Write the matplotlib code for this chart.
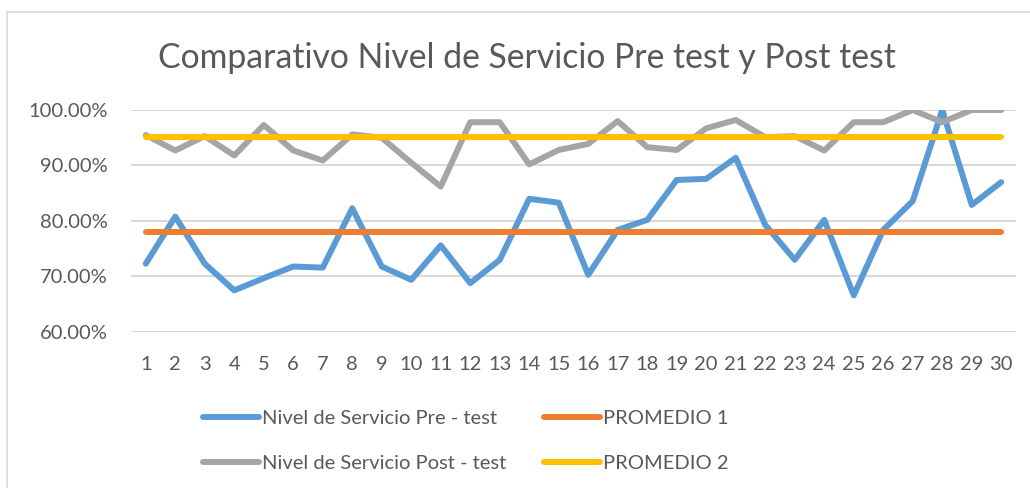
import numpy as np
import matplotlib
matplotlib.use("Agg")
import matplotlib.pyplot as plt
from matplotlib.ticker import FuncFormatter
from matplotlib.patches import Rectangle

# Nivel de servicio por medicion (en %)
dias = list(range(1, 31))
pre_test = [72.3, 80.8, 72.3, 67.5, 69.7, 71.8, 71.6, 82.3, 71.8, 69.4,
            75.6, 68.8, 73.0, 84.0, 83.3, 70.3, 78.4, 80.2, 87.4, 87.6,
            91.4, 79.3, 73.0, 80.2, 66.6, 78.4, 83.6, 100.0, 82.9, 87.0]
post_test = [95.5, 92.7, 95.3, 91.8, 97.3, 92.7, 90.9, 95.6, 95.0, 90.5,
             86.2, 97.8, 97.8, 90.2, 92.8, 93.9, 98.0, 93.3, 92.8, 96.7,
             98.2, 95.1, 95.3, 92.7, 97.8, 97.8, 100.0, 97.8, 100.0, 100.0]
promedio_1 = [np.mean(pre_test)] * len(dias)
promedio_2 = [np.mean(post_test)] * len(dias)

txt = "#595959"
plt.rcParams['font.family'] = ['Lato', 'DejaVu Sans']

fig = plt.figure(figsize=(10.30, 4.88), dpi=100)
ax = fig.add_axes([131 / 1030, 1 - 332 / 488, 885 / 1030, 222 / 488])

# marco del grafico
fig.patches.append(Rectangle((7 / 1030, -0.1), 1.2, 1 - 12 / 488 + 0.1,
                             transform=fig.transFigure, fill=False,
                             edgecolor="#d9d9d9", lw=1.2))

lw = 4.3
ax.plot(dias, pre_test, color="#5B9BD5", lw=lw, solid_capstyle="round",
        label="Nivel de Servicio Pre - test")
ax.plot(dias, post_test, color="#A5A5A5", lw=lw, solid_capstyle="round",
        label="Nivel de Servicio Post - test")
ax.plot(dias, promedio_1, color="#ED7D31", lw=lw, solid_capstyle="round",
        label="PROMEDIO 1")
ax.plot(dias, promedio_2, color="#FFC000", lw=lw, solid_capstyle="round",
        label="PROMEDIO 2")

ax.set_xlim(0.5, 30.5)
ax.set_ylim(60, 100)
ax.set_yticks([60, 70, 80, 90, 100])
ax.yaxis.set_major_formatter(FuncFormatter(lambda v, p: f"{v:.2f}%"))
ax.set_xticks(dias)
ax.grid(axis="y", color="#d9d9d9", lw=1.5)
ax.set_axisbelow(True)
for s in ["top", "right", "left", "bottom"]:
    ax.spines[s].set_visible(False)
ax.tick_params(axis="both", length=0, labelsize=14.5, colors=txt)
ax.tick_params(axis="y", pad=17)
ax.tick_params(axis="x", pad=17)

fig.text(0.512, 1 - 58 / 488, "Comparativo Nivel de Servicio Pre test y Post test",
         ha="center", va="center", fontsize=24.3, color=txt)

ax.legend(loc="center left", bbox_to_anchor=(203 / 1030, 1 - 441 / 488),
          bbox_transform=fig.transFigure, ncol=2, frameon=False,
          fontsize=14.5, labelcolor=txt, handlelength=2.8, handletextpad=0.15,
          columnspacing=1.85, labelspacing=1.4, borderaxespad=0, borderpad=0)

fig.savefig("out.png", dpi=100, facecolor="white")
